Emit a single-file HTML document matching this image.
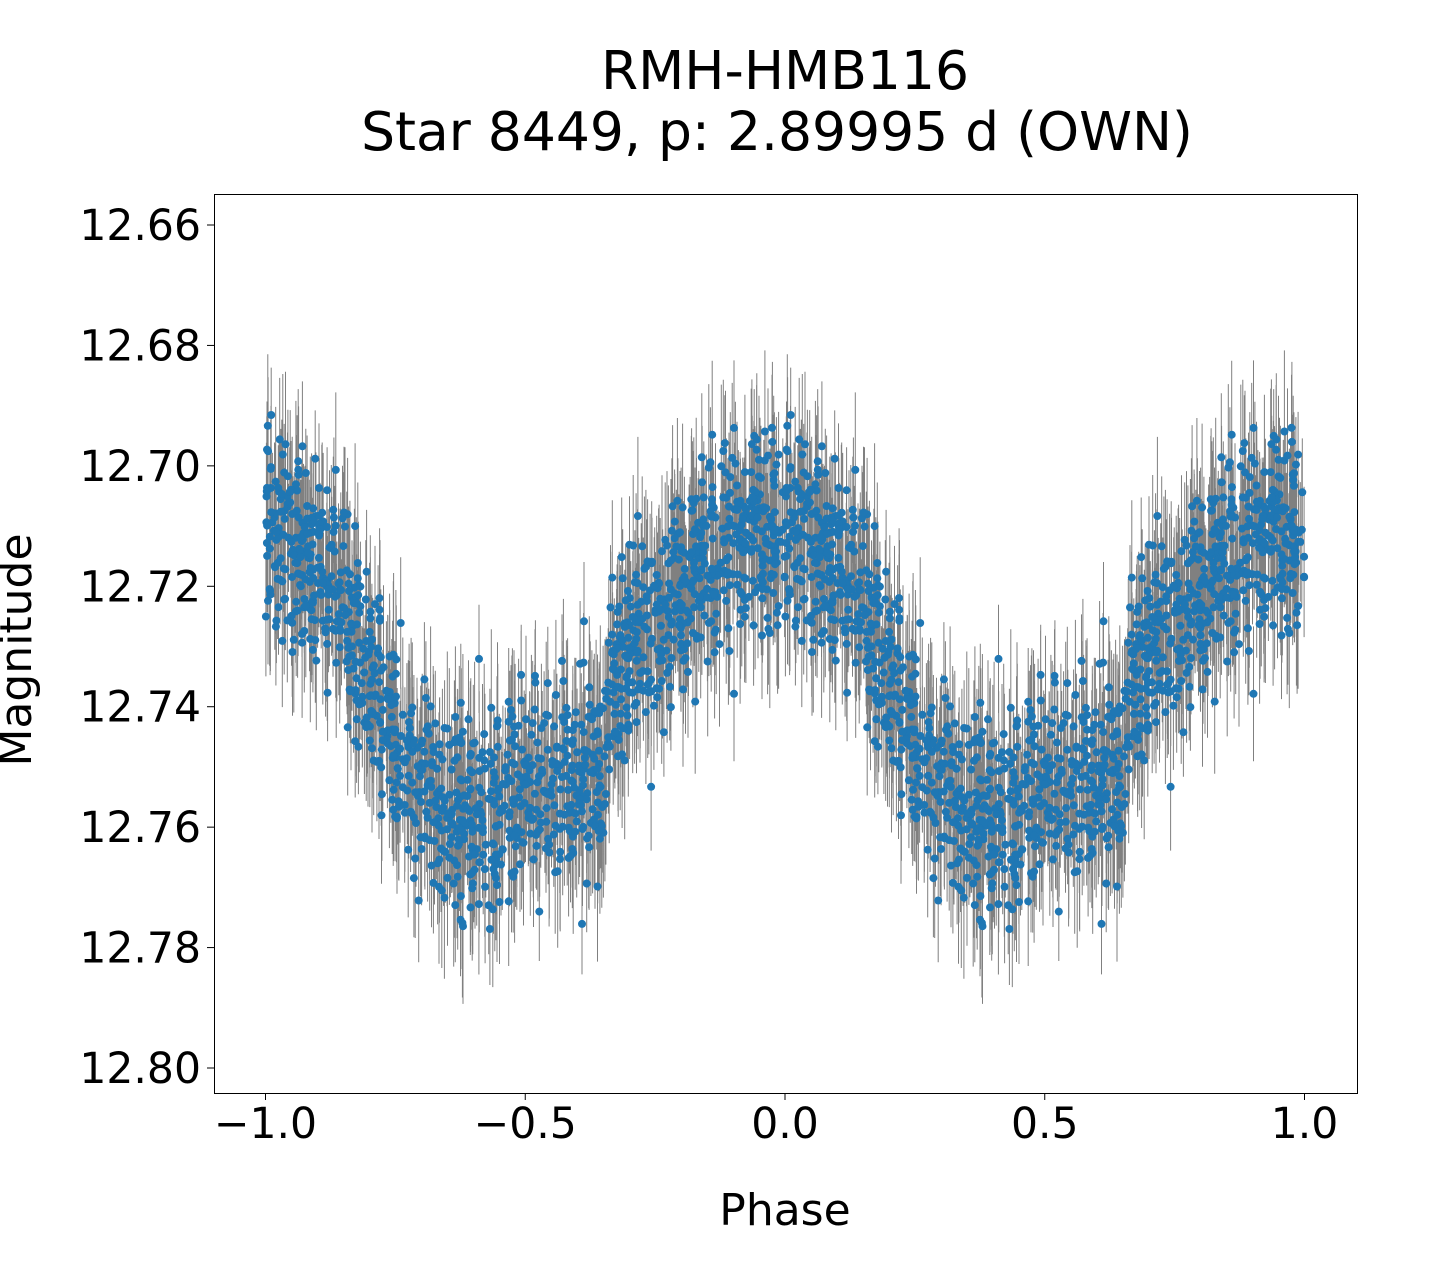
<!DOCTYPE html>
<html><head><meta charset="utf-8"><style>
html,body{margin:0;padding:0;background:#fff;}
svg{display:block;font-family:"DejaVu Sans","Liberation Sans",sans-serif;}
</style></head><body>
<svg id="s" width="1440" height="1280" xmlns="http://www.w3.org/2000/svg">
<rect width="1440" height="1280" fill="#fff"/>
<text x="785" y="89" font-size="53.5" text-anchor="middle">RMH-HMB116</text>
<text x="777" y="150" font-size="53.5" text-anchor="middle">Star 8449, p: 2.89995 d (OWN)</text>
<g id="data"></g>
<rect x="214.5" y="194.5" width="1143" height="899" fill="none" stroke="#000" stroke-width="1"/>
<g id="ticks" font-size="42.5"></g>
<text x="785" y="1225" font-size="44" text-anchor="middle">Phase</text>
<text transform="translate(31,650) rotate(-90)" font-size="44" text-anchor="middle">Magnitude</text>
</svg>
<script>
function X(p){return 785+p*519.5;}
function Y(m){return 225+(m-12.66)/0.02*120.43;}
var tk=document.getElementById("ticks"),h="";
[-1,-0.5,0,0.5,1].forEach(function(v){var x=X(v);
h+='<line x1="'+x+'" x2="'+x+'" y1="1093" y2="1100" stroke="#000"/>';
h+='<text x="'+x+'" y="1138" text-anchor="middle">'+(v<0?"\u2212":"")+Math.abs(v).toFixed(1)+'</text>';});
for(var i=0;i<8;i++){var m=12.66+i*0.02,y=Y(m);
h+='<line x1="207" x2="214" y1="'+y+'" y2="'+y+'" stroke="#000"/>';
h+='<text x="201" y="'+(y+15)+'" text-anchor="end">'+m.toFixed(2)+'</text>';}
tk.innerHTML=h;
var seed=12345;function r(){seed=(seed*1103515245+12345)%2147483648;return seed/2147483648;}
function g(){return (r()+r()+r()+r()-2)*1.7;}
var P=[0,0.05,0.1,0.15,0.2,0.25,0.3,0.35,0.4,0.45,0.5,0.55,0.6,0.65,0.67,0.7,0.75,0.8,0.85,0.9,0.95,1.0];
var M=[12.711,12.713,12.716,12.724,12.735,12.745,12.752,12.757,12.759,12.757,12.754,12.753,12.752,12.749,12.736,12.732,12.727,12.722,12.716,12.713,12.710,12.711];
function model(p){for(var i=0;i<P.length-1;i++){if(p<=P[i+1]){var t=(p-P[i])/(P[i+1]-P[i]);return M[i]+t*(M[i+1]-M[i]);}}return M[M.length-1];}
var bars="",dots="";
for(var k=0;k<1400;k++){var p=r();var m=model(p)+g()*0.0085;var e=0.007+r()*0.007;
[p,p-1].forEach(function(q){var x=X(q).toFixed(1);
bars+='M'+x+' '+Y(m-e).toFixed(1)+'V'+Y(m+e).toFixed(1);
dots+='<circle cx="'+x+'" cy="'+Y(m).toFixed(1)+'" r="4"/>';});}
document.getElementById("data").innerHTML='<path d="'+bars+'" stroke="#808080" stroke-width="1" fill="none"/><g fill="#1f77b4">'+dots+'</g>';
</script>
</body></html>
